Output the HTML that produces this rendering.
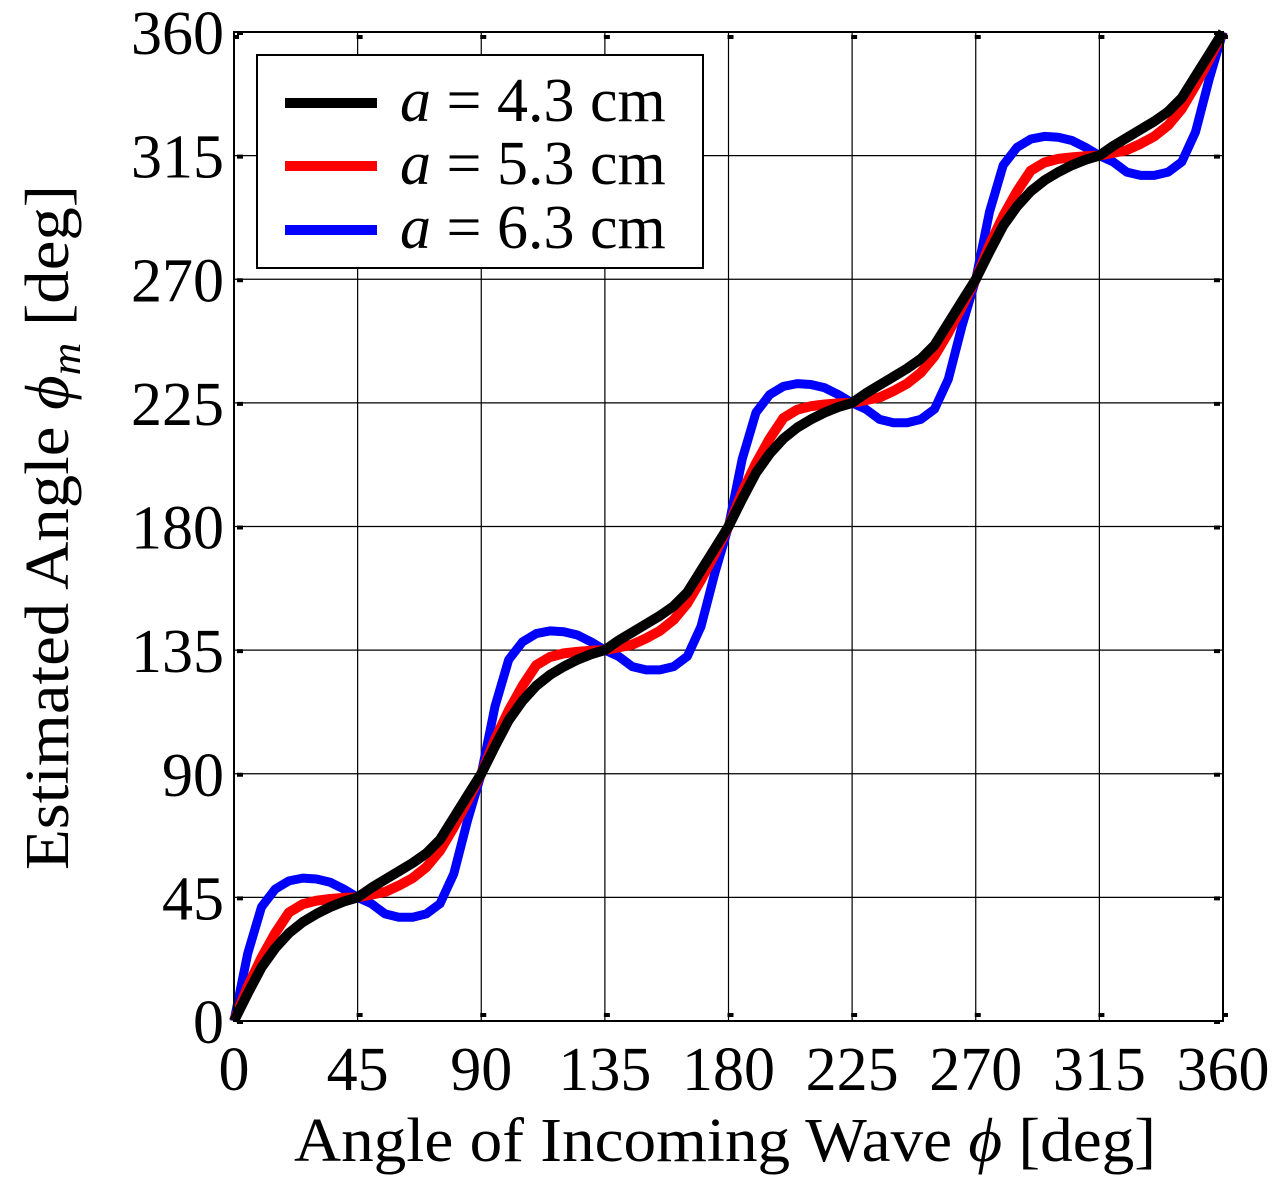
<!DOCTYPE html>
<html><head><meta charset="utf-8"><style>
html,body{margin:0;padding:0;background:#fff;width:1284px;height:1184px;overflow:hidden}
svg{display:block;font-family:"Liberation Serif",serif}
</style></head><body>
<svg id="chart" width="1284" height="1184" viewBox="0 0 1284 1184" xmlns="http://www.w3.org/2000/svg">
<rect x="0" y="0" width="1284" height="1184" fill="#fff"/>
<g id="grid"></g>
<g id="series"></g>
<g id="frame"></g>
<g id="xticks"></g>
<g id="yticks"></g>
<text x="294" y="1161" font-size="62" textLength="862" lengthAdjust="spacingAndGlyphs">Angle of Incoming Wave  <tspan font-style="italic">ϕ</tspan> [deg]</text>
<text transform="translate(68,870) rotate(-90)" x="0" y="0" font-size="62" textLength="685" lengthAdjust="spacingAndGlyphs">Estimated Angle  <tspan font-style="italic">ϕ</tspan><tspan font-style="italic" font-size="42" dy="12">m</tspan><tspan dy="-12">  [deg]</tspan></text>
<g>
<rect x="257" y="55" width="446" height="213" fill="#fff" stroke="#000" stroke-width="2"/>
<g>
<line x1="285" y1="103" x2="377" y2="103" stroke="#000" stroke-width="10"/>
<text x="400" y="121" font-size="62"><tspan font-style="italic">a</tspan> = 4.3 cm</text></g>
<g>
<line x1="285" y1="166" x2="377" y2="166" stroke="#f00" stroke-width="10"/>
<text x="400" y="184" font-size="62"><tspan font-style="italic">a</tspan> = 5.3 cm</text></g>
<g>
<line x1="285" y1="230" x2="377" y2="230" stroke="#00f" stroke-width="10"/>
<text x="400" y="248" font-size="62"><tspan font-style="italic">a</tspan> = 6.3 cm</text></g>
</g>
</svg>
<script>
const xTicks = [0,45,90,135,180,225,270,315,360];
const yTicks = [0,45,90,135,180,225,270,315,360];
const phi = [];
for (let i = 0; i <= 72; i++) phi.push(i*5);
const black = [0,10,19.5,26.5,32,36,39,41.5,43.5,45,48.5,51.5,54.5,57.5,61,66,74,82,
90,100,109.5,116.5,122,126,129,131.5,133.5,135,138.5,141.5,144.5,147.5,151,156,164,172,
180,190,199.5,206.5,212,216,219,221.5,223.5,225,228.5,231.5,234.5,237.5,241,246,254,262,
270,280,289.5,296.5,302,306,309,311.5,313.5,315,318.5,321.5,324.5,327.5,331,336,344,352,360];
const red = [0,12.5,23,32,39.5,42.5,43.8,44.4,44.8,45,46,47,49.3,52,56,62,70.5,80,
90,102.5,113,122,129.5,132.5,133.8,134.4,134.8,135,136,137,139.3,142,146,152,160.5,170,
180,192.5,203,212,219.5,222.5,223.8,224.4,224.8,225,226,227,229.3,232,236,242,250.5,260,
270,282.5,293,302,309.5,312.5,313.8,314.4,314.8,315,316,317,319.3,322,326,332,340.5,350,360];
const blue = [0,24.5,41.5,48,51,52,51.7,50.5,48,45,42.7,39,37.8,37.8,39,42.7,53.6,73,
90,114.5,131.5,138,141,142,141.7,140.5,138,135,132.7,129,127.8,127.8,129,132.7,143.6,163,
180,204.5,221.5,228,231,232,231.7,230.5,228,225,222.7,219,217.8,217.8,219,222.7,233.6,253,
270,294.5,311.5,318,321,322,321.7,320.5,318,315,312.7,309,307.8,307.8,309,312.7,323.6,343,360];

const NS = "http://www.w3.org/2000/svg";
const X0 = 234, X1 = 1223, Y0 = 1021, Y1 = 32;
const sx = v => X0 + (v/360)*(X1-X0);
const sy = v => Y0 - (v/360)*(Y0-Y1);
function mk(tag, attrs, parent){ const e=document.createElementNS(NS,tag); for(const k in attrs) e.setAttribute(k,attrs[k]); parent.appendChild(e); return e; }

const grid = document.getElementById('grid');
xTicks.forEach(t => {
  const l = mk('line',{x1:sx(t),x2:sx(t),y1:Y1,y2:Y0,stroke:'#000','stroke-width':1.2},grid);
  
  
});
yTicks.forEach(t => {
  const l = mk('line',{x1:X0,x2:X1,y1:sy(t),y2:sy(t),stroke:'#000','stroke-width':1.2},grid);
  
  
});

const seriesG = document.getElementById('series');
function drawSeries(vals, color, w, name){
  const d = vals.map((v,i)=>(i?'L':'M')+sx(phi[i]).toFixed(1)+','+sy(v).toFixed(1)).join(' ');
  const p = mk('path',{d:d,fill:'none',stroke:color,'stroke-width':w,'stroke-linejoin':'round','stroke-linecap':'butt'},seriesG);
  
  
}
drawSeries(blue,'#00f',9,'series-a-6-3cm');
drawSeries(red,'#f00',10,'series-a-5-3cm');
drawSeries(black,'#000',10,'series-a-4-3cm');

const frame = document.getElementById('frame');
const fr = mk('rect',{x:X0,y:Y1,width:X1-X0,height:Y0-Y1,fill:'none',stroke:'#000','stroke-width':2},frame);


xTicks.forEach(t => {
  const a = mk('rect',{x:sx(t)-1,y:Y0-8,width:6,height:4,fill:'#000'},frame);
  
  
  const b = mk('rect',{x:sx(t)-1,y:Y1+3,width:6,height:4,fill:'#000'},frame);
  
  
});
yTicks.forEach(t => {
  const a = mk('rect',{x:X0+3,y:sy(t)-1,width:6,height:4,fill:'#000'},frame);
  
  
  const b = mk('rect',{x:X1-9,y:sy(t)-1,width:6,height:4,fill:'#000'},frame);
  
  
});

const xt = document.getElementById('xticks');
xTicks.forEach(t => {
  const e = mk('text',{x:sx(t),y:1090,'font-size':62,'text-anchor':'middle'},xt);
  e.textContent = String(t);
  
  
});
const yt = document.getElementById('yticks');
yTicks.forEach(t => {
  const e = mk('text',{x:224,y:sy(t)+22,'font-size':62,'text-anchor':'end'},yt);
  e.textContent = String(t);
  
  
});
</script>
</body></html>
